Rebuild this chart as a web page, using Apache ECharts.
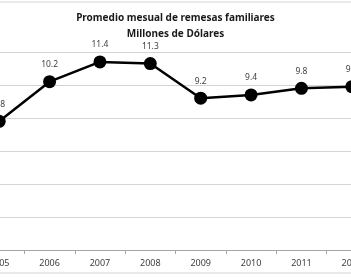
<!DOCTYPE html>
<html>
<head>
<meta charset="utf-8">
<script src="https://cdn.jsdelivr.net/npm/echarts@6/dist/echarts.min.js"></script>
<style>
  html, body { margin: 0; padding: 0; background: #fff; overflow: hidden; }
  /* the original picture is a crop: plot runs past both edges */
  #chart { width: 403px; height: 278px; margin-left: -26px; }
</style>
</head>
<body>
<div id="chart"></div>
<script>
// remesas familiares, promedio mensual (millones de dolares)
var years = ['2005', '2006', '2007', '2008', '2009', '2010', '2011', '2012'];
var remesas = [7.8, 10.2, 11.4, 11.3, 9.2, 9.4, 9.8, 9.9];
var titleLines = ['Promedio mesual de remesas familiares', 'Millones de Dólares'];

var chart = echarts.init(document.getElementById('chart'));

var option = {
  backgroundColor: '#fff',
  animation: false,
  title: {
    text: titleLines.join('\n'),
    left: 'center',
    top: 5,
    textStyle: {
      fontFamily: 'Noto Sans',
      fontSize: 10,
      fontWeight: 'bold',
      color: '#1a1a1a',
      lineHeight: 16
    }
  },
  grid: {
    left: 0,
    right: 0,
    top: 52,
    bottom: 28
  },
  xAxis: {
    type: 'category',
    data: years,
    axisLine: { lineStyle: { color: '#a6a6a6', width: 1 } },
    axisTick: { show: true, length: 4, lineStyle: { color: '#a6a6a6' } },
    axisLabel: {
      color: '#404040',
      fontFamily: 'Noto Sans',
      fontSize: 9,
      margin: 9
    }
  },
  yAxis: {
    type: 'value',
    min: 0,
    max: 12,
    interval: 2,
    axisLine: { show: false },
    axisTick: { show: false },
    axisLabel: { show: false },
    splitLine: { lineStyle: { color: '#d4d4d4', width: 1 } }
  },
  series: [
    {
      type: 'line',
      data: remesas,
      symbol: 'circle',
      symbolSize: 13,
      lineStyle: { color: '#000', width: 2.5 },
      itemStyle: { color: '#000' },
      label: {
        show: true,
        position: 'top',
        distance: 6,
        color: '#404040',
        fontFamily: 'Noto Sans',
        fontSize: 8.5,
        formatter: function (p) { return p.value.toFixed(1); }
      }
    }
  ],
  graphic: [
    { type: 'line', shape: { x1: 0, y1: 2, x2: 403, y2: 2 }, style: { stroke: '#d4d4d4', lineWidth: 1 } },
    { type: 'line', shape: { x1: 0, y1: 273, x2: 403, y2: 273 }, style: { stroke: '#d4d4d4', lineWidth: 1 } }
  ]
};

chart.setOption(option);
</script>
</body>
</html>
